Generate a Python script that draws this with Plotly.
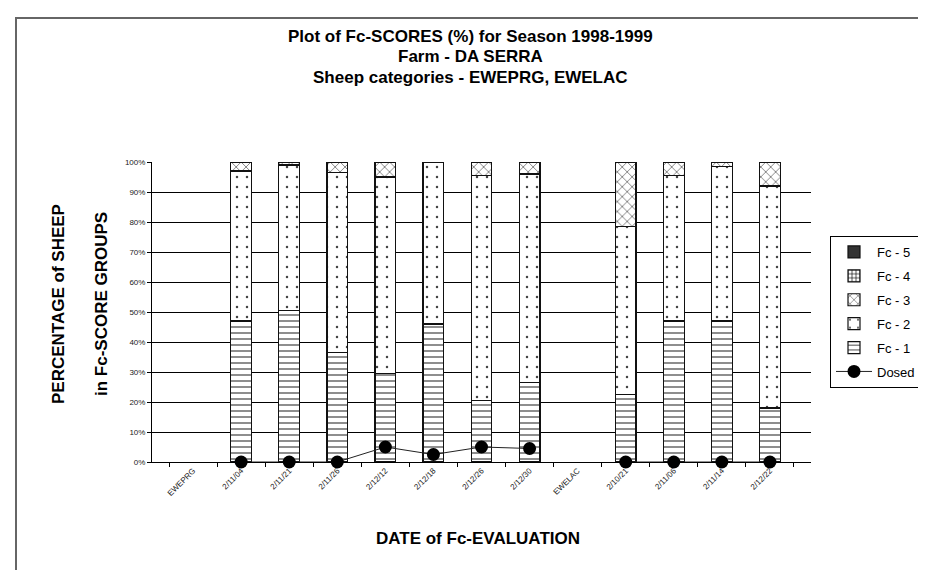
import plotly.graph_objects as go

categories = ["EWEPRG", "2/11/04", "2/11/21", "2/11/26", "2/12/12", "2/12/18", "2/12/26",
              "2/12/30", "EWELAC", "2/10/21", "2/11/06", "2/11/14", "2/12/22"]
fc1 = [None, 47, 50.5, 36.5, 29.5, 46, 20.5, 26.5, None, 22.5, 47, 47, 18]
fc2 = [None, 50, 48.5, 60, 65.5, 54, 75, 69.5, None, 56, 48.5, 51.5, 74]
fc3 = [None, 3, 1, 3.5, 5, 0, 4.5, 4, None, 21.5, 4.5, 1.5, 8]
fc4 = [None, 0, 0, 0, 0, 0, 0, 0, None, 0, 0, 0, 0]
fc5 = [None, 0, 0, 0, 0, 0, 0, 0, None, 0, 0, 0, 0]
dosed = [None, 0, 0, 0, 5, 2.5, 5, 4.5, None, 0, 0, 0, 0]

FONT = "Liberation Sans, Arial, sans-serif"

fig = go.Figure()

def add_bar(name, vals, shape, size, solidity, rank, fill="white", fg="black"):
    pattern = dict(shape=shape, size=size, solidity=solidity, fgcolor=fg,
                   bgcolor="white", fillmode="replace") if shape else None
    fig.add_trace(go.Bar(
        x=categories, y=vals, name=name, width=0.43,
        marker=dict(color=fill, line=dict(color="#111111", width=1.2),
                    pattern=pattern),
        legendrank=rank, legendgroup=name,
    ))

add_bar("Fc - 1", fc1, "-", 6, 0.17, 5, fg="#222222")
add_bar("Fc - 2", fc2, ".", 10, 0.05, 4, fg="#444444")
add_bar("Fc - 3", fc3, "x", 7, 0.15, 3, fg="#222222")
add_bar("Fc - 4", fc4, "+", 5, 0.3, 2)
add_bar("Fc - 5", fc5, "", 0, 0, 1, fill="#333333")

fig.add_trace(go.Scatter(
    x=categories, y=dosed, name="Dosed", mode="lines+markers",
    line=dict(color="#222222", width=1),
    marker=dict(color="black", size=13, symbol="circle"),
    connectgaps=False, cliponaxis=False, legendrank=6, legendgroup="Dosed",
))

W, H = 926, 570
L, R, T, B = 144, 123, 154, 116
pw, ph = W - L - R, H - T - B

def px(x):
    return (x - L) / pw

def py(y):
    return (H - B - y) / ph

annotations = []
for txt, yy in [("Plot of Fc-SCORES (%) for Season 1998-1999", 28),
                ("Farm - DA SERRA", 49),
                ("Sheep categories - EWEPRG, EWELAC", 70)]:
    annotations.append(dict(text=txt, xref="paper", yref="paper",
                            x=px(462), y=py(yy), xanchor="center", yanchor="middle",
                            showarrow=False,
                            font=dict(family=FONT, size=17, color="black", weight="bold")))
annotations.append(dict(text="DATE of Fc-EVALUATION", xref="paper", yref="paper",
                        x=px(470), y=py(530), xanchor="center", yanchor="middle",
                        showarrow=False,
                        font=dict(family=FONT, size=17, color="black", weight="bold")))
for txt, xx in [("PERCENTAGE of SHEEP", 50), ("in Fc-SCORE GROUPS", 93)]:
    annotations.append(dict(text=txt, xref="paper", yref="paper",
                            x=px(xx), y=py(296), xanchor="center", yanchor="middle",
                            textangle=-90, showarrow=False,
                            font=dict(family=FONT, size=17, color="black", weight="bold")))

fig.update_layout(
    width=W, height=H,
    margin=dict(l=L, r=R, t=T, b=B, pad=0),
    paper_bgcolor="white", plot_bgcolor="white",
    barmode="stack",
    font=dict(family=FONT, color="black"),
    annotations=annotations,
    showlegend=True,
    legend=dict(x=px(822), y=py(228), xanchor="left", yanchor="top",
                bordercolor="black", borderwidth=1, bgcolor="white",
                font=dict(family=FONT, size=13, color="black"),
                tracegroupgap=4, itemwidth=36),
    shapes=[dict(type="rect", xref="paper", yref="paper",
                 x0=px(8), x1=px(918), y0=py(565), y1=py(10),
                 line=dict(color="#666666", width=2), layer="below")],
)

fig.update_xaxes(
    type="category", categoryorder="array", categoryarray=categories,
    tickangle=-45, tickfont=dict(family=FONT, size=8, color="#222222"),
    showline=True, linecolor="black", linewidth=1,
    ticks="outside", ticklen=4, tickcolor="black", tickson="boundaries",
    showgrid=False,
)
fig.update_yaxes(
    range=[0, 100], dtick=10, ticksuffix="%",
    tickfont=dict(family=FONT, size=8, color="#222222"),
    showline=True, linecolor="black", linewidth=1,
    ticks="outside", ticklen=4, tickcolor="black",
    showgrid=True, gridcolor="black", gridwidth=1,
    zeroline=False,
)

fig.write_html("out.html")
